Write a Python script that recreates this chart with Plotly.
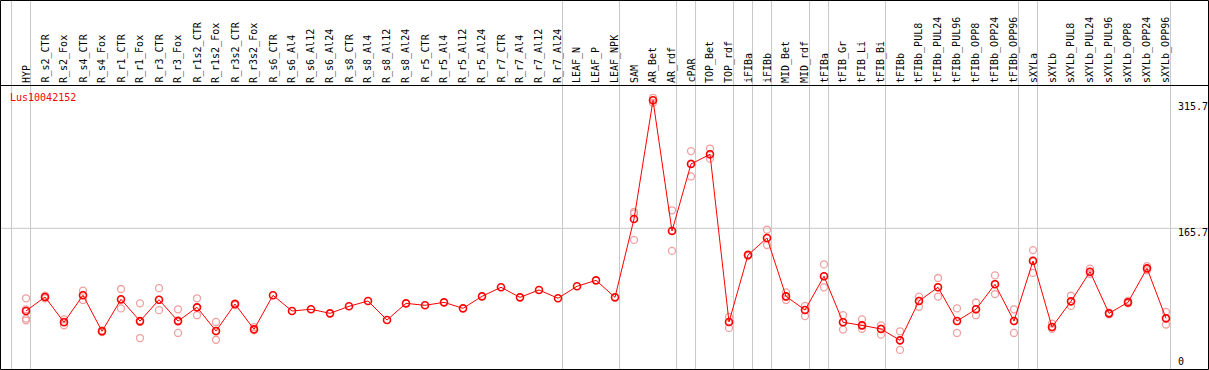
import plotly.graph_objects as go

categories = ["HYP", "R_s2_CTR", "R_s2_Fox", "R_s4_CTR", "R_s4_Fox", "R_r1_CTR", "R_r1_Fox",
              "R_r3_CTR", "R_r3_Fox", "R_r1s2_CTR", "R_r1s2_Fox", "R_r3s2_CTR", "R_r3s2_Fox",
              "R_s6_CTR", "R_s6_Al4", "R_s6_Al12", "R_s6_Al24", "R_s8_CTR", "R_s8_Al4",
              "R_s8_Al12", "R_s8_Al24", "R_r5_CTR", "R_r5_Al4", "R_r5_Al12", "R_r5_Al24",
              "R_r7_CTR", "R_r7_Al4", "R_r7_Al12", "R_r7_Al24", "LEAF_N", "LEAF_P", "LEAF_NPK",
              "SAM", "AR_Bet", "AR_rdf", "cPAR", "TOP_Bet", "TOP_rdf", "iFIBa", "iFIBb",
              "MID_Bet", "MID_rdf", "tFIBa", "tFIB_Gr", "tFIB_Li", "tFIB_Bi", "tFIBb",
              "tFIBb_PUL8", "tFIBb_PUL24", "tFIBb_PUL96", "tFIBb_OPP8", "tFIBb_OPP24",
              "tFIBb_OPP96", "sXYLa", "sXYLb", "sXYLb_PUL8", "sXYLb_PUL24", "sXYLb_PUL96",
              "sXYLb_OPP8", "sXYLb_OPP24", "sXYLb_OPP96"]

means = [68, 84.5, 54.6, 86.5, 44, 81.8, 56, 81.3, 56, 72.3, 44.3, 76.2, 46.3,
         86.5, 68, 70, 65.2, 73.5, 79.8, 57.3, 77, 74.7, 78.2, 71.1, 85.3,
         96, 84.1, 92.8, 83, 97.2, 104.2, 84.1,
         176.7, 317, 162.5, 241.7, 253.2, 55, 134.2, 154.3, 85.3, 69.1,
         109, 54.6, 51, 46.7, 33.3, 79.8, 96, 56.1, 70, 99.5, 56.1,
         127.1, 49, 79.4, 114.4, 65.2, 78.2, 118.4, 59.3]

replicates = [
    [83, 70, 59, 57], [86, 84, 83], [58, 55, 51], [92, 87, 81], [45, 44, 43],
    [94, 81, 71], [77, 55, 36], [95, 81, 69], [70, 57, 42], [83, 72, 63],
    [55, 44, 34], [77, 76, 75], [49, 46, 45],
    [], [], [], [], [], [], [], [], [], [], [], [], [], [], [], [], [], [], [],
    [185, 183, 152], [320, 317, 314], [187, 163, 139], [257, 242, 227], [260, 253, 248],
    [61, 55, 48], [135, 134, 133], [164, 154, 146], [90, 85, 81], [74, 69, 62],
    [123, 109, 96], [63, 55, 46], [58, 51, 47], [51, 47, 40], [44, 33, 22],
    [85, 80, 73], [107, 96, 85], [71, 56, 42], [78, 70, 63], [110, 100, 88], [70, 56, 42],
    [140, 128, 113], [53, 49, 47], [86, 79, 74], [118, 114, 112], [66, 65, 64],
    [80, 78, 77], [121, 118, 116], [67, 59, 52],
]

group_ends = [-1, 0, 28, 31, 34, 35, 37, 38, 39, 41, 42, 45, 52, 53, 60]
axis_ticks = [315.7, 165.7, 0]
axis_tick_text = ["315.7", "165.7", "0"]
title_text = "Lus10042152"

W, H = 1209, 370
X0_PX, DX_PX = 26, 19          # pixel of first category, pixel step
Y0_PX, Y_SCALE = 368.5, 0.846  # pixel of value 0, pixels per unit

x_idx = list(range(len(categories)))
x_range = [-X0_PX / DX_PX, (W - X0_PX) / DX_PX]
y_range = [(Y0_PX - H) / Y_SCALE, Y0_PX / Y_SCALE]


def py(px):
    return 1 - px / H


def px_x(px):
    return px / W


rep_x, rep_y = [], []
for i, reps in enumerate(replicates):
    for v in reps:
        rep_x.append(i)
        rep_y.append(v)

fig = go.Figure()
fig.add_trace(go.Scatter(
    x=rep_x, y=rep_y, mode="markers",
    marker=dict(symbol="circle-open", size=7, color="#f0a0a0", line=dict(width=1.3, color="#f0a0a0")),
    hoverinfo="skip", showlegend=False))
fig.add_trace(go.Scatter(
    x=x_idx, y=means, mode="lines+markers",
    line=dict(color="#ff0000", width=1),
    marker=dict(symbol="circle-open", size=7, color="#ff0000", line=dict(width=1.6, color="#ff0000")),
    showlegend=False))

shapes = []
for g in group_ends:
    shapes.append(dict(type="line", xref="x", yref="paper", x0=g + 0.24, x1=g + 0.24,
                       y0=py(369), y1=py(0), line=dict(color="#c8c8c8", width=1), layer="below"))
shapes.append(dict(type="line", xref="paper", yref="y", x0=px_x(1), x1=px_x(1208),
                   y0=axis_ticks[1], y1=axis_ticks[1], line=dict(color="#c8c8c8", width=1), layer="below"))
shapes.append(dict(type="line", xref="paper", yref="paper", x0=px_x(0.5), x1=px_x(1208.5),
                   y0=py(85.5), y1=py(85.5), line=dict(color="black", width=1)))
shapes.append(dict(type="rect", xref="paper", yref="paper", x0=px_x(0.5), x1=px_x(1208.5),
                   y0=py(369.5), y1=py(0.5), line=dict(color="black", width=1)))

annotations = []
for i, c in enumerate(categories):
    annotations.append(dict(x=i, xref="x", y=py(84), yref="paper", text=c, textangle=-90,
                            xanchor="center", yanchor="bottom", showarrow=False, borderpad=0,
                            font=dict(family="DejaVu Sans Mono", size=10, color="black")))
annotations.append(dict(x=px_x(9), xref="paper", y=py(97), yref="paper", text=title_text,
                        xanchor="left", yanchor="middle", showarrow=False, borderpad=0,
                        font=dict(family="DejaVu Sans Mono", size=10, color="#ff0000")))
label_y_px = [106.7, 232.3, 361.7]
for t, ypx in zip(axis_tick_text, label_y_px):
    annotations.append(dict(x=px_x(1177), xref="paper", y=py(ypx), yref="paper", text=t,
                            xanchor="left", yanchor="middle", showarrow=False, borderpad=0,
                            font=dict(family="DejaVu Sans Mono", size=10, color="black")))

fig.update_layout(
    width=W, height=H, margin=dict(l=0, r=0, t=0, b=0),
    paper_bgcolor="white", plot_bgcolor="white",
    xaxis=dict(range=x_range, visible=False, fixedrange=True),
    yaxis=dict(range=y_range, visible=False, fixedrange=True),
    shapes=shapes, annotations=annotations,
)

fig.write_html("out.html", config={"displayModeBar": False},
               post_script="document.body.style.margin='0';document.body.style.overflow='hidden';")
